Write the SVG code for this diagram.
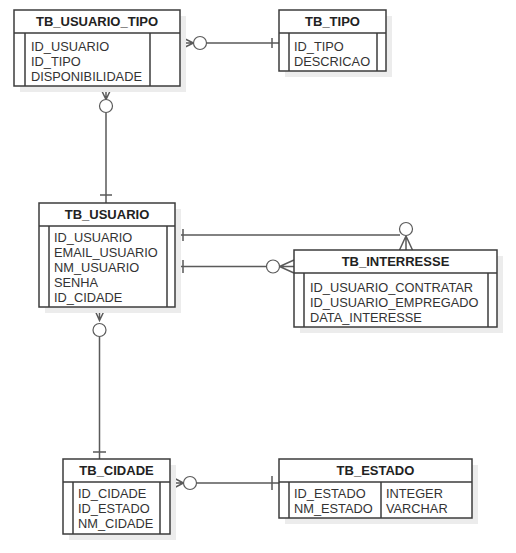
<svg xmlns="http://www.w3.org/2000/svg" width="516" height="553" viewBox="0 0 516 553">
<style>
.sh{fill:#ececec;stroke:none}
.box{fill:#fff;stroke:#3c3c3c;stroke-width:1.5}
.ln{stroke:#3c3c3c;stroke-width:1.5;fill:none}
.hd{font-family:"Liberation Sans",Arial,sans-serif;font-size:13px;font-weight:bold;fill:#222;text-anchor:middle}
.tx{font-family:"Liberation Sans",Arial,sans-serif;font-size:12.8px;fill:#333}
.cn{stroke:#5a5a5a;stroke-width:1.5;fill:none}
.ci{stroke:#5a5a5a;stroke-width:1.2;fill:#fff}
</style>
<rect width="516" height="553" fill="#fff"/>
<g id="connectors">
  <!-- TB_USUARIO_TIPO -> TB_TIPO -->
  <path class="cn" d="M180,36.5 L193.5,43 L180,49.5 M180,43 H193.5 M206.5,43 H279 M272,38 V48"/>
  <circle class="ci" cx="200" cy="43" r="6.5"/>
  <!-- TB_USUARIO_TIPO -> TB_USUARIO -->
  <path class="cn" d="M99.5,86 L106,99.5 L112.5,86 M106,86 V99.5 M106,112.5 V203 M100,195 H112"/>
  <circle class="ci" cx="106" cy="106" r="6.5"/>
  <!-- TB_USUARIO -> TB_INTERRESSE (1) -->
  <path class="cn" d="M175,235 H400 M183,229 V241 M406,236 L399.5,250 M406,236 L412.5,250 M406,236 V250"/>
  <circle class="ci" cx="406" cy="229" r="6.5"/>
  <!-- TB_USUARIO -> TB_INTERRESSE (2) -->
  <path class="cn" d="M175,266.5 H266.5 M183,260 V273 M294,260 L279.5,266.5 L294,273 M279.5,266.5 H294"/>
  <circle class="ci" cx="273" cy="266.5" r="6.5"/>
  <!-- TB_USUARIO -> TB_CIDADE -->
  <path class="cn" d="M93.5,307 L99.5,320.5 L106,307 M99.5,307 V320.5 M99.5,336.5 V459 M93,452 H106"/>
  <circle class="ci" cx="99.5" cy="330" r="6.5"/>
  <!-- TB_CIDADE -> TB_ESTADO -->
  <path class="cn" d="M170,476 L183.5,483 L170,490 M170,483 H183.5 M196.5,483 H279 M272,476 V490"/>
  <circle class="ci" cx="190" cy="483" r="6.5"/>
</g>
<g id="TB_USUARIO_TIPO">
  <rect class="sh" x="20" y="16" width="166" height="76"/>
  <rect class="box" x="14" y="10" width="166" height="76"/>
  <path class="ln" d="M14,33 H180 M25,33 V86 M150,33 V86"/>
  <text class="hd" x="97" y="26">TB_USUARIO_TIPO</text>
  <text class="tx" x="31" y="50.5">ID_USUARIO</text>
  <text class="tx" x="31" y="65.5">ID_TIPO</text>
  <text class="tx" x="31" y="80.5">DISPONIBILIDADE</text>
</g>
<g id="TB_TIPO">
  <rect class="sh" x="285" y="16" width="107" height="61"/>
  <rect class="box" x="279" y="10" width="107" height="61"/>
  <path class="ln" d="M279,33 H386 M289,33 V71 M377,33 V71"/>
  <text class="hd" x="332.5" y="26">TB_TIPO</text>
  <text class="tx" x="294" y="50.5">ID_TIPO</text>
  <text class="tx" x="294" y="65.5">DESCRICAO</text>
</g>
<g id="TB_USUARIO">
  <rect class="sh" x="45" y="209" width="136" height="104"/>
  <rect class="box" x="39" y="203" width="136" height="104"/>
  <path class="ln" d="M39,226 H175 M49,226 V307 M167,226 V307"/>
  <text class="hd" x="107" y="218.5">TB_USUARIO</text>
  <text class="tx" x="54" y="242">ID_USUARIO</text>
  <text class="tx" x="54" y="257">EMAIL_USUARIO</text>
  <text class="tx" x="54" y="272">NM_USUARIO</text>
  <text class="tx" x="54" y="287">SENHA</text>
  <text class="tx" x="54" y="302">ID_CIDADE</text>
</g>
<g id="TB_INTERRESSE">
  <rect class="sh" x="300" y="256" width="203" height="77"/>
  <rect class="box" x="294" y="250" width="203" height="77"/>
  <path class="ln" d="M294,273 H497 M304,273 V327 M488,273 V327"/>
  <text class="hd" x="395.5" y="266">TB_INTERRESSE</text>
  <text class="tx" x="310" y="291.5">ID_USUARIO_CONTRATAR</text>
  <text class="tx" x="310" y="306.5">ID_USUARIO_EMPREGADO</text>
  <text class="tx" x="310" y="321.5">DATA_INTERESSE</text>
</g>
<g id="TB_CIDADE">
  <rect class="sh" x="69" y="465" width="107" height="75"/>
  <rect class="box" x="63" y="459" width="107" height="75"/>
  <path class="ln" d="M63,482 H170 M73,482 V534 M160,482 V534"/>
  <text class="hd" x="116.5" y="475">TB_CIDADE</text>
  <text class="tx" x="78" y="498">ID_CIDADE</text>
  <text class="tx" x="78" y="513">ID_ESTADO</text>
  <text class="tx" x="78" y="528">NM_CIDADE</text>
</g>
<g id="TB_ESTADO">
  <rect class="sh" x="285" y="465" width="193" height="59"/>
  <rect class="box" x="279" y="459" width="193" height="59"/>
  <path class="ln" d="M279,482 H472 M289,482 V518 M381,482 V518"/>
  <text class="hd" x="375.5" y="475">TB_ESTADO</text>
  <text class="tx" x="294" y="498">ID_ESTADO</text>
  <text class="tx" x="294" y="513">NM_ESTADO</text>
  <text class="tx" x="386" y="498">INTEGER</text>
  <text class="tx" x="386" y="513">VARCHAR</text>
</g>
</svg>
